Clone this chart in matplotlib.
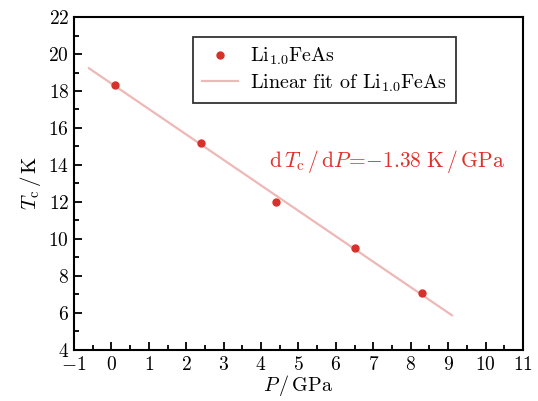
import numpy as np
import matplotlib
matplotlib.use("Agg")
import matplotlib.pyplot as plt
from matplotlib.ticker import MultipleLocator

# --- Data ---
pressure = [0.1, 2.4, 4.4, 6.5, 8.3]       # GPa
tc = [18.35, 15.2, 12.0, 9.5, 7.1]         # K
fit_range = [-0.6, 9.1]

plt.rcParams['mathtext.fontset'] = 'cm'
plt.rcParams['font.family'] = 'serif'
plt.rcParams['font.serif'] = ['cmr10', 'DejaVu Serif']
plt.rcParams['axes.formatter.use_mathtext'] = True

fig = plt.figure(figsize=(5.38, 4.01), dpi=100)
ax = fig.add_axes([0.1375, 0.1272, 0.8346, 0.8304])

# linear fit of the points
slope, intercept = np.polyfit(pressure, tc, 1)
xf = np.array(fit_range)
ax.plot(xf, slope * xf + intercept, color='#eeb8b6', lw=1.6,
        label=r'Linear fit of Li$_{1.0}$FeAs', zorder=2)
ax.plot(pressure, tc, 'o', color='#d8302a', ms=5, ls='none',
        label=r'Li$_{1.0}$FeAs', zorder=3)

ax.set_xlim(-1, 11)
ax.set_ylim(4, 22)
ax.xaxis.set_major_locator(MultipleLocator(1))
ax.xaxis.set_minor_locator(MultipleLocator(0.5))
ax.yaxis.set_major_locator(MultipleLocator(2))
ax.yaxis.set_minor_locator(MultipleLocator(1))
ax.tick_params(which='both', direction='in', labelsize=14, width=1.3)
ax.tick_params(which='major', length=6)
ax.tick_params(which='minor', length=3.5)
ax.tick_params(axis='x', pad=4)
for s in ax.spines.values():
    s.set_linewidth(1.5)

ax.set_xlabel(r'$P\,/\,\mathrm{GPa}$', fontsize=14.5, labelpad=-0.5)
ax.set_ylabel(r'$T_\mathrm{c}\,/\,\mathrm{K}$', fontsize=15, labelpad=4)

ax.text(10.5, 14.2, r'$\mathrm{d}\,T_\mathrm{c}\,/\,\mathrm{d}P\!=\!{-}1.38\ \mathrm{K}\,/\,\mathrm{GPa}$',
        color='#e0302a', fontsize=15.5, ha='right', va='center')

h, l = ax.get_legend_handles_labels()
leg = ax.legend(h[::-1], l[::-1], loc='upper left', bbox_to_anchor=(0.265, 0.94),
                borderaxespad=0, fontsize=14.5, frameon=True, fancybox=False,
                edgecolor='black', handlelength=1.8, borderpad=0.45,
                labelspacing=0.25, handletextpad=0.6)
leg.get_frame().set_linewidth(1.3)

fig.savefig('out.png', dpi=100)
